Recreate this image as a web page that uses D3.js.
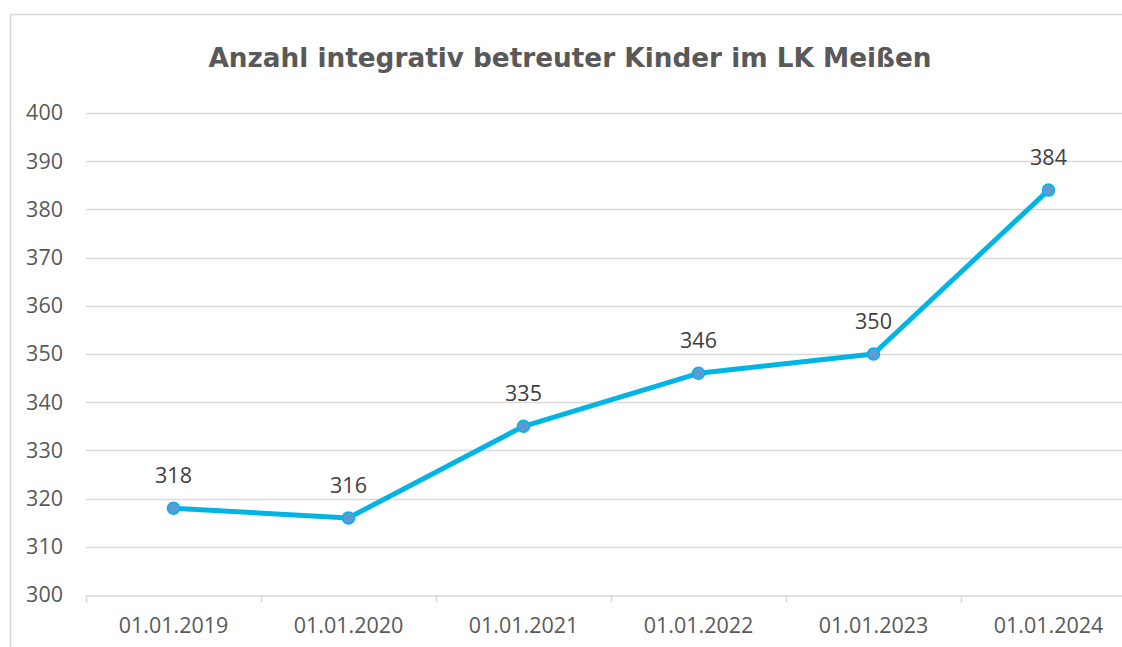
<!DOCTYPE html>
<html>
<head>
<meta charset="utf-8">
<script src="https://cdn.jsdelivr.net/npm/d3@7"></script>
<style>
  body { margin: 0; background: #fff; }
  svg { display: block; }
</style>
</head>
<body>
<div id="chart"></div>
<script>
const categories = ["01.01.2019", "01.01.2020", "01.01.2021", "01.01.2022", "01.01.2023", "01.01.2024"];
const values = [318, 316, 335, 346, 350, 384];
const yTicks = [300, 310, 320, 330, 340, 350, 360, 370, 380, 390, 400];
const title = "Anzahl integrativ betreuter Kinder im LK Meißen";

const W = 1122, H = 647;
const margin = { top: 113, left: 86, bottom: 52 };
const plotRight = 1136;
const labelSize = 21.5;

const svg = d3.select("#chart")
  .append("svg")
  .attr("width", W)
  .attr("height", H);

// chart frame
svg.append("rect")
  .attr("x", 10.5)
  .attr("y", 14.5)
  .attr("width", 1130)
  .attr("height", 650)
  .attr("fill", "#fff")
  .attr("stroke", "#d9d9d9")
  .attr("stroke-width", 1.5);

const x = d3.scaleBand().domain(categories).range([margin.left, plotRight]).padding(0);
const y = d3.scaleLinear().domain([300, 400]).range([H - margin.bottom, margin.top]);

// gridlines
svg.append("g")
  .selectAll("line")
  .data(yTicks.filter(d => d > 300))
  .enter()
  .append("line")
  .attr("x1", margin.left)
  .attr("x2", plotRight)
  .attr("y1", d => Math.round(y(d)) + 0.5)
  .attr("y2", d => Math.round(y(d)) + 0.5)
  .attr("stroke", "#d9d9d9")
  .attr("stroke-width", 1.5);

// y axis labels
const yAxis = d3.axisLeft(y).tickValues(yTicks).tickSize(0).tickPadding(23);
svg.append("g")
  .attr("transform", "translate(" + margin.left + ",0)")
  .call(yAxis)
  .call(g => g.select(".domain").remove())
  .selectAll("text")
  .attr("fill", "#595959")
  .attr("font-family", "'Open Sans', sans-serif")
  .attr("font-size", labelSize);

// x axis
const xAxis = d3.axisBottom(x).tickSize(0).tickPadding(22);
const gx = svg.append("g")
  .attr("transform", "translate(0," + (Math.round(y(300)) + 0.5) + ")")
  .call(xAxis);
gx.select(".domain").attr("stroke", "#d9d9d9").attr("stroke-width", 1.5);
gx.selectAll("text")
  .attr("fill", "#595959")
  .attr("font-family", "'Open Sans', sans-serif")
  .attr("font-size", labelSize);

// category boundary ticks
gx.append("g")
  .selectAll("line")
  .data(categories.concat(["end"]))
  .enter()
  .append("line")
  .attr("x1", (d, i) => Math.round(margin.left + i * x.step()) + 0.5)
  .attr("x2", (d, i) => Math.round(margin.left + i * x.step()) + 0.5)
  .attr("y1", 0)
  .attr("y2", 7)
  .attr("stroke", "#d9d9d9")
  .attr("stroke-width", 1.5);

const cx = d => x(d) + x.bandwidth() / 2;
const data = categories.map((c, i) => ({ cat: c, value: values[i] }));

// line
svg.append("path")
  .datum(data)
  .attr("fill", "none")
  .attr("stroke", "#00b4e3")
  .attr("stroke-width", 5)
  .attr("stroke-linejoin", "round")
  .attr("d", d3.line()
    .x(d => cx(d.cat))
    .y(d => y(d.value)));

// markers
svg.append("g")
  .selectAll("circle")
  .data(data)
  .enter()
  .append("circle")
  .attr("cx", d => cx(d.cat))
  .attr("cy", d => y(d.value))
  .attr("r", 6)
  .attr("fill", "#5b9bd5")
  .attr("stroke", "#00b4e3")
  .attr("stroke-width", 1.5);

// data labels
svg.append("g")
  .selectAll("text")
  .data(data)
  .enter()
  .append("text")
  .attr("x", d => cx(d.cat))
  .attr("y", d => y(d.value) - 25)
  .attr("text-anchor", "middle")
  .attr("fill", "#404040")
  .attr("font-family", "'Open Sans', sans-serif")
  .attr("font-size", labelSize)
  .text(d => d.value);

// title
svg.append("text")
  .attr("x", 570)
  .attr("y", 67)
  .attr("text-anchor", "middle")
  .attr("fill", "#595959")
  .attr("font-family", "'DejaVu Sans', Verdana, sans-serif")
  .attr("font-weight", "bold")
  .attr("font-size", 26.3)
  .text(title);
</script>
</body>
</html>
